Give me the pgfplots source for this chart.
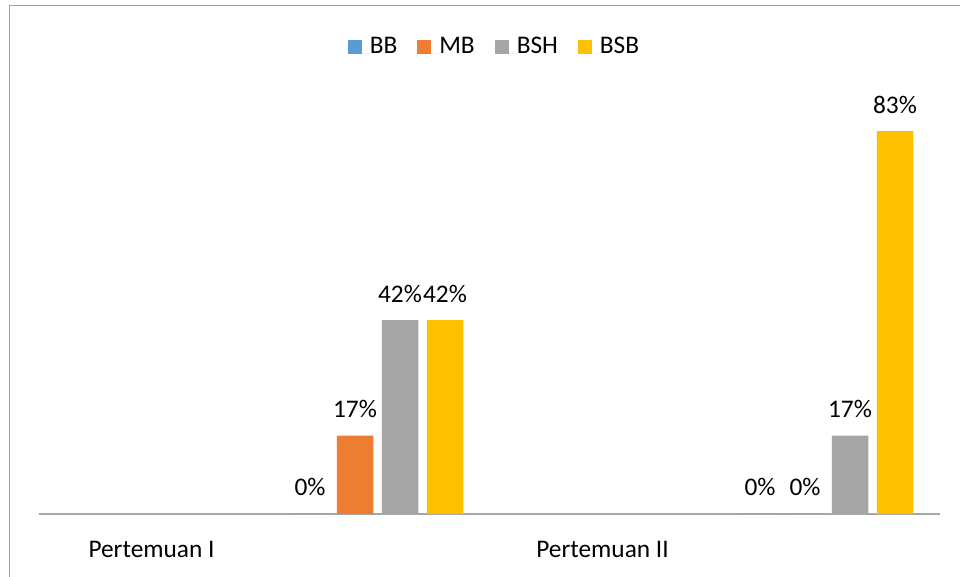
\documentclass[border=0pt]{standalone}
\usepackage{pgfplots}
\pgfplotsset{compat=1.18}
\usepackage{fontspec}
\setmainfont{Carlito}
\definecolor{cBB}{HTML}{5B9BD5}
\definecolor{cMB}{HTML}{ED7D31}
\definecolor{cBSH}{HTML}{A5A5A5}
\definecolor{cBSB}{HTML}{FFC000}
\definecolor{cFrame}{HTML}{A0A0A0}
\definecolor{cAxis}{HTML}{A6A6A6}
\begin{document}
\fontsize{19}{23}\selectfont
\begin{tikzpicture}
\useasboundingbox (0,0) rectangle (720pt,432.75pt);
\fill[white] (0,0) rectangle (720pt,432.75pt);
\draw[cFrame, line width=1.3pt] (7.1pt,0pt) -- (7.1pt,428.6pt) -- (721pt,428.6pt);
\begin{axis}[
  at={(29.25pt,47.25pt)}, anchor=origin,
  scale only axis,
  width=675.75pt, height=346pt,
  xmin=39, xmax=940, ymin=0, ymax=100,
  clip=false,
  ybar, bar width=36.5, bar shift=0,
  axis x line=bottom, axis y line=none,
  x axis line style={-, draw=cAxis, line width=1.1pt},
  major tick length=0pt,
  ytick=\empty,
  xtick={151.5,602.5},
  xticklabels={Pertemuan I, Pertemuan II},
  xticklabel style={anchor=base, inner sep=0pt, yshift=-33pt, font=\fontsize{19}{23}\selectfont},
  /pgf/number format/assume math mode=true,
  nodes near coords={\pgfmathprintnumber[fixed,precision=0]{\pgfplotspointmeta}\%},
  nodes near coords style={anchor=base, inner sep=0pt, yshift=13.5pt, font=\fontsize{19}{23}\selectfont, text=black},
  legend columns=4,
  legend style={draw=none, fill=none, at={(0.5044,1.0154)}, anchor=center,
    font=\fontsize{19}{23}\selectfont,
    /tikz/every even column/.append style={column sep=15pt},
    /tikz/every odd column/.append style={column sep=0pt},
    nodes={inner sep=0pt, anchor=base west, text depth=0pt}},
  legend image code/.code={\fill[#1,draw=none] (0pt,-0.5pt) rectangle (10.5pt,10pt);\path (0pt,0pt) -- (16.5pt,0pt);},
]
\addplot[fill=cBB, draw=none] coordinates {(310,0) (760,0)};
\addplot[fill=cMB, draw=none] coordinates {(355,17) (805,0)};
\addplot[fill=cBSH, draw=none] coordinates {(400,42) (850,17)};
\addplot[fill=cBSB, draw=none] coordinates {(445,42) (895,83)};
\legend{BB, MB, BSH, BSB}
\end{axis}
\end{tikzpicture}
\end{document}
